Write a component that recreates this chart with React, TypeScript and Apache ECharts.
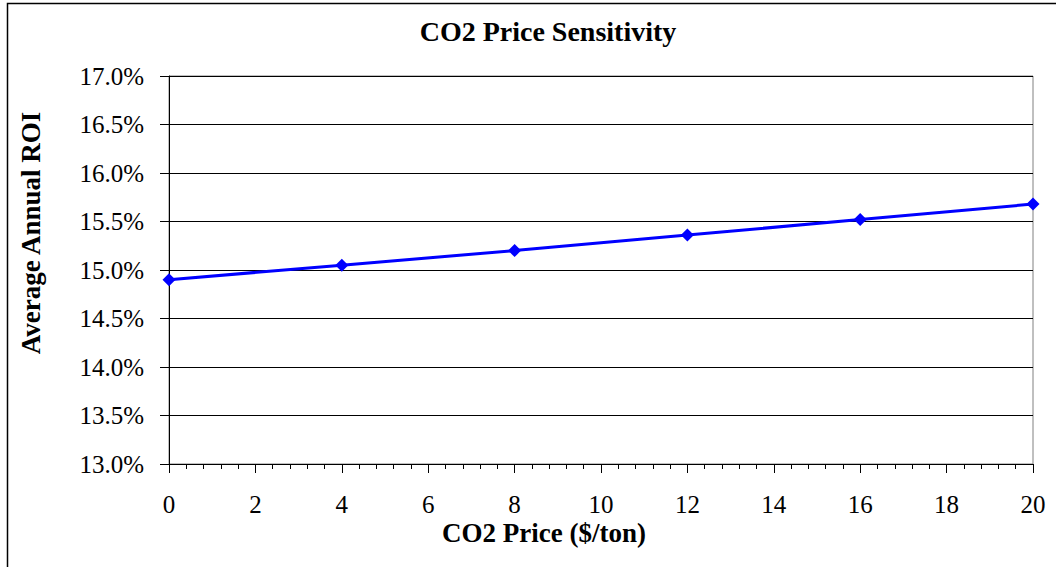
import React, { useEffect, useRef } from "react";
import * as echarts from "echarts";

// CO2 price scenarios ($/ton) and the resulting average annual ROI (%)
const co2Prices = [0, 4, 8, 12, 16, 20];
const roiPercent = [14.9, 15.05, 15.2, 15.36, 15.52, 15.68];

const chartTitle = "CO2 Price Sensitivity";
const xAxisName = "CO2 Price ($/ton)";
const yAxisName = "Average Annual ROI";

const SERIF = "Liberation Serif";

export default function App() {
  const ref = useRef<HTMLDivElement | null>(null);

  useEffect(() => {
    if (!ref.current) return;
    const chart = echarts.init(ref.current, undefined, { renderer: "svg" });
    chart.setOption({
      animation: false,
      backgroundColor: "#ffffff",
      textStyle: { fontFamily: SERIF },
      title: {
        text: chartTitle,
        left: 543,
        textAlign: "center",
        top: 12,
        textStyle: { fontFamily: SERIF, fontSize: 28, fontWeight: "bold", color: "#000" },
      },
      graphic: [
        {
          type: "rect",
          shape: { x: 7.5, y: 3.5, width: 1200, height: 700 },
          style: { fill: "none", stroke: "#000", lineWidth: 1.5 },
          silent: true,
          z: 100,
        },
        {
          type: "text",
          x: 544,
          y: 533,
          style: {
            text: xAxisName,
            fontFamily: SERIF,
            fontSize: 27,
            fontWeight: "bold",
            lineHeight: 22,
            fill: "#000",
            align: "center",
            verticalAlign: "middle",
          },
        },
        {
          type: "text",
          x: 31,
          y: 233,
          rotation: Math.PI / 2,
          style: {
            text: yAxisName,
            fontFamily: SERIF,
            fontSize: 27,
            fontWeight: "bold",
            fill: "#000",
            align: "center",
            verticalAlign: "middle",
          },
        },
      ],
      grid: {
        left: 169,
        top: 76,
        right: 23,
        bottom: 103,
        show: true,
        borderColor: "#808080",
        borderWidth: 1,
        backgroundColor: "transparent",
      },
      xAxis: {
        type: "value",
        min: 0,
        max: 20,
        interval: 2,
        axisLine: { show: true, onZero: false, lineStyle: { color: "#000", width: 1 } },
        axisTick: { show: true, length: 9, lineStyle: { color: "#000" } },
        minorTick: { show: true, splitNumber: 5, length: 5, lineStyle: { color: "#000" } },
        splitLine: { show: false },
        axisLabel: { fontFamily: SERIF, fontSize: 25, lineHeight: 20, color: "#000", margin: 30 },
      },
      yAxis: {
        type: "value",
        min: 13,
        max: 17,
        interval: 0.5,
        axisLine: { show: true, lineStyle: { color: "#000", width: 1 } },
        axisTick: { show: true, length: 9, lineStyle: { color: "#000" } },
        splitLine: { show: true, lineStyle: { color: "#000", width: 1 } },
        axisLabel: {
          fontFamily: SERIF,
          fontSize: 25,
          color: "#000",
          margin: 25,
          formatter: (v: number) => v.toFixed(1) + "%",
        },
      },
      series: [
        {
          type: "line",
          data: co2Prices.map((p, i) => [p, roiPercent[i]]),
          symbol: "diamond",
          symbolSize: 13,
          lineStyle: { color: "#0000ff", width: 3 },
          itemStyle: { color: "#0000ff" },
          z: 5,
        },
      ],
    });
    return () => chart.dispose();
  }, []);

  return (
    <div
      ref={ref}
      style={{ position: "fixed", left: 0, top: 0, width: 1056, height: 567, background: "#fff" }}
    />
  );
}
